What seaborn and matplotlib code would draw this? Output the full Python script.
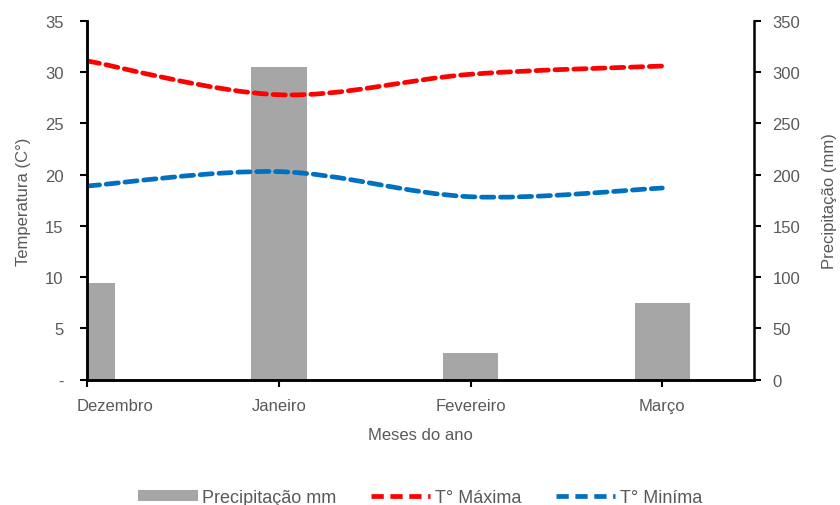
import numpy as np
import matplotlib
matplotlib.use("Agg")
import matplotlib.pyplot as plt
import matplotlib.transforms as mtransforms
import seaborn as sns
from matplotlib.path import Path
from matplotlib.patches import PathPatch, Rectangle
from matplotlib.lines import Line2D

# ──────────────────────────────────────────────
# Data
# ──────────────────────────────────────────────
months = ["Dezembro", "Janeiro", "Fevereiro", "Março"]
precip_mm = [94, 305, 26, 74.5]
t_max = [31.1, 27.8, 29.8, 30.6]
t_min = [18.9, 20.3, 17.85, 18.7]
temp_ticks = [0, 5, 10, 15, 20, 25, 30, 35]
temp_tick_labels = ["-", "5", "10", "15", "20", "25", "30", "35"]
precip_ticks = [0, 50, 100, 150, 200, 250, 300, 350]

GRAY_TXT = "#595959"
BAR_COLOR = "#A6A6A6"
RED = "#FF0000"
BLUE = "#0070C0"
DASH = (0, (2.6, 1.4))

sns.set_theme(style="ticks")
plt.rcParams["font.family"] = ["Liberation Sans", "DejaVu Sans"]
plt.rcParams["font.size"] = 11


def smooth_path(xs, ys):
    """Excel-style smoothed line as a cubic Bezier path through the points."""
    pts = np.column_stack([xs, ys]).astype(float)
    ext = np.vstack([pts[0], pts, pts[-1]])
    verts = [pts[0]]
    codes = [Path.MOVETO]
    for i in range(len(pts) - 1):
        p0, p1, p2, p3 = ext[i], ext[i + 1], ext[i + 2], ext[i + 3]
        verts += [p1 + (p2 - p0) / 6, p2 - (p3 - p1) / 6, p2]
        codes += [Path.CURVE4] * 3
    return Path(verts, codes)


fig = plt.figure(figsize=(8.4, 5.06), dpi=100)
ax = fig.add_axes([0.104, 0.2476, 0.794, 0.709])
ax2 = ax.twinx()

# Precipitation bars on the secondary axis
sns.barplot(x=months, y=precip_mm, ax=ax2, color=BAR_COLOR, width=0.29,
            saturation=1, edgecolor="none")

# Temperature lines on the primary axis (drawn above the bars)
x_pos = np.arange(len(months))
for vals, col in [(t_max, RED), (t_min, BLUE)]:
    ax.add_patch(PathPatch(smooth_path(x_pos, vals), fill=False, edgecolor=col,
                           linewidth=3.4, linestyle=DASH, capstyle="round"))

ax.set_zorder(ax2.get_zorder() + 1)
ax.patch.set_visible(False)

ax.set_xlim(0, 3.48)
ax.set_ylim(0, 35)
ax2.set_ylim(0, 350)

ax.set_xticks(x_pos)
ax.set_xticklabels(months)
ax.set_yticks(temp_ticks)
ax.set_yticklabels(temp_tick_labels)
ax2.set_yticks(precip_ticks)
ax2.set_xlabel("")

ax.set_xlabel("Meses do ano", color=GRAY_TXT, fontsize=12, labelpad=10)
ax.set_ylabel("Temperatura (C°)", color=GRAY_TXT, fontsize=12, labelpad=10)
ax2.set_ylabel("Precipitação (mm)", color=GRAY_TXT, fontsize=12, labelpad=16)

for a in (ax, ax2):
    a.tick_params(axis="both", colors="black", labelcolor=GRAY_TXT,
                  labelsize=12, length=5, width=1.5, direction="out")
    a.spines["top"].set_visible(False)
    for s in ("left", "right", "bottom"):
        a.spines[s].set_linewidth(1.8)
        a.spines[s].set_color("black")
    a.grid(False)
ax.tick_params(axis="y", pad=12)
ax.tick_params(axis="x", pad=8)
ax2.tick_params(axis="y", pad=8)
ax.spines["right"].set_visible(False)

# first category label is pushed right so it stays inside the chart, like Excel
first = ax.xaxis.get_major_ticks()[0].label1
first.set_transform(first.get_transform() +
                    mtransforms.ScaledTranslation(0.28, 0, fig.dpi_scale_trans))

handles = [
    Rectangle((0, 0), 1, 1, facecolor=BAR_COLOR, edgecolor="none"),
    Line2D([], [], color=RED, lw=3.4, linestyle=DASH),
    Line2D([], [], color=BLUE, lw=3.4, linestyle=DASH),
]
fig.legend(handles, ["Precipitação mm", "T° Máxima", "T° Miníma"],
           loc="center", bbox_to_anchor=(0.5, 0.015), ncol=3, frameon=False,
           handlelength=3.3, handleheight=0.5, columnspacing=1.9,
           handletextpad=0.25, fontsize=13, labelcolor=GRAY_TXT)

fig.savefig("out.png", dpi=100)
